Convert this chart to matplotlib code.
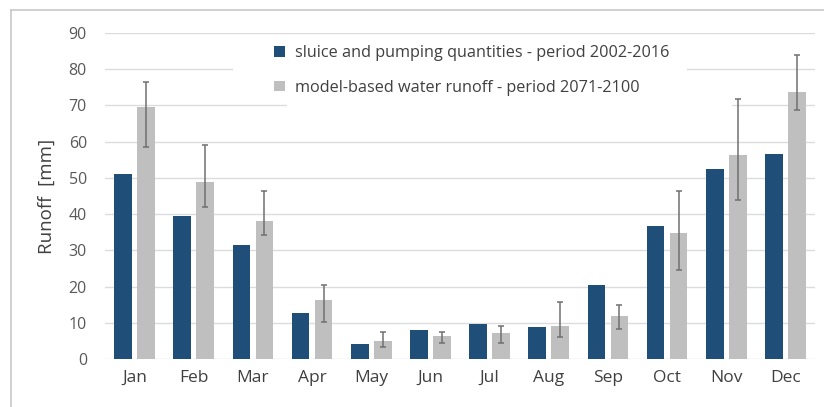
import matplotlib
matplotlib.use("Agg")
import matplotlib.pyplot as plt
from matplotlib.patches import Rectangle
from matplotlib.lines import Line2D
import numpy as np

plt.rcParams['font.family'] = ['Open Sans', 'DejaVu Sans']

months = ["Jan", "Feb", "Mar", "Apr", "May", "Jun",
          "Jul", "Aug", "Sep", "Oct", "Nov", "Dec"]
sluice = [51.1, 39.4, 31.5, 12.6, 4.1, 7.9, 9.8, 8.8, 20.5, 36.7, 52.5, 56.5]
model = [69.5, 48.8, 38.1, 16.3, 5.0, 6.4, 7.3, 9.0, 11.9, 34.9, 56.2, 73.6]
model_low = [58.4, 41.9, 34.3, 10.1, 3.4, 4.4, 4.5, 6.1, 8.3, 24.7, 44.0, 68.7]
model_high = [76.4, 59.0, 46.3, 20.4, 7.5, 7.4, 9.1, 15.6, 14.8, 46.4, 71.9, 84.0]
yticks = [0, 10, 20, 30, 40, 50, 60, 70, 80, 90]

label_sluice = "sluice and pumping quantities - period 2002-2016"
label_model = "model-based water runoff - period 2071-2100"

blue = "#1f4e79"
grey = "#bfbfbf"
text_col = "#595959"

W, H = 824, 407
fig = plt.figure(figsize=(W / 100, H / 100), dpi=100)
ax = fig.add_axes([105 / W, 1 - 359 / H, 710 / W, 326 / H])

x = np.arange(len(months))
off = 0.195
bw = 0.30
model_arr = np.array(model)
yerr = np.vstack([model_arr - np.array(model_low),
                  np.array(model_high) - model_arr])

b1 = ax.bar(x - off, sluice, width=bw, color=blue, zorder=2, label=label_sluice)
b2 = ax.bar(x + off, model, width=bw, color=grey, zorder=2, label=label_model,
            yerr=yerr, error_kw=dict(ecolor="#707070", elinewidth=1.1,
                                     capsize=2.5, capthick=1.1, zorder=3))

ax.set_xlim(-0.5, len(months) - 0.5)
ax.set_ylim(0, 90)
ax.set_yticks(yticks)
ax.set_xticks(x)
ax.set_xticklabels(months)
ax.set_axisbelow(True)
ax.yaxis.grid(True, color="#dcdcdc", linewidth=1.0, zorder=0)
for s in ax.spines.values():
    s.set_visible(False)
ax.tick_params(axis="y", length=0, colors=text_col, labelsize=11.5, pad=13)
ax.tick_params(axis="x", length=0, colors="#404040", labelsize=12.5, pad=8)
ax.set_ylabel("Runoff  [mm]", fontsize=13.5, color="#404040", labelpad=9)

# white backing behind the legend entries
ax.add_patch(Rectangle(((233 - 105) / 710, (359 - 80) / 326), (687 - 233) / 710,
                       42 / 326, transform=ax.transAxes, facecolor="white",
                       edgecolor="none", zorder=1))
ax.add_patch(Rectangle(((287 - 105) / 710, (359 - 112) / 326), (732 - 287) / 710,
                       32 / 326, transform=ax.transAxes, facecolor="white",
                       edgecolor="none", zorder=1))

leg = ax.legend(handles=[b1, b2], loc="upper left",
                bbox_to_anchor=((274 - 105) / 710, (359 - 45) / 326),
                frameon=False, fontsize=11.7, handlelength=0.65, handleheight=0.65,
                handletextpad=0.65, labelspacing=1.15, borderaxespad=0,
                borderpad=0)
for t in leg.get_texts():
    t.set_color("#404040")

# outer frame lines (left and top)
fig.add_artist(Line2D([10.5 / W, 10.5 / W], [0, 1 - 10 / H], transform=fig.transFigure,
                      color="#c8c8c8", linewidth=1.2))
fig.add_artist(Line2D([10.5 / W, 1], [1 - 10 / H, 1 - 10 / H], transform=fig.transFigure,
                      color="#c8c8c8", linewidth=1.2))

fig.savefig("out.png", dpi=100)
